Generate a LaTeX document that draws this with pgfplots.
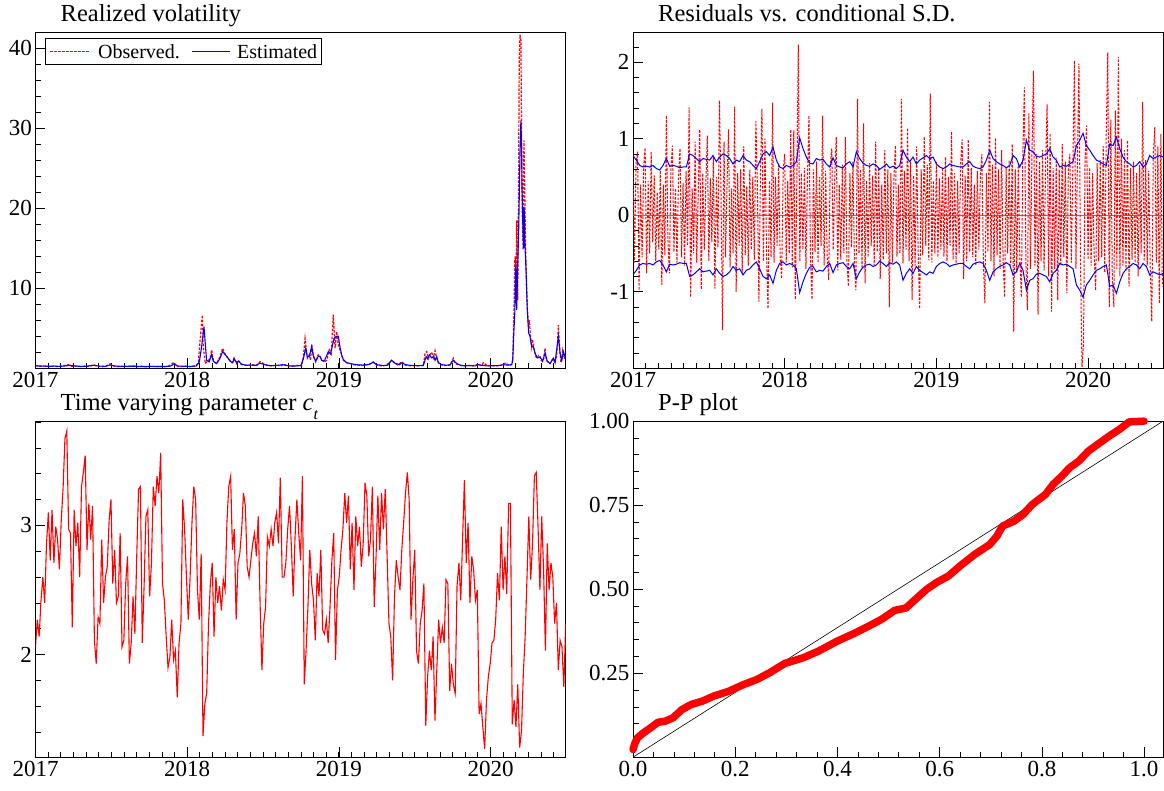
\documentclass[border=0pt]{standalone}
\usepackage{fontspec}
\setmainfont{Liberation Serif}
\usepackage{pgfplots}
\usepackage{pgfplotstable}
\pgfplotsset{compat=1.18}

% realized volatility, observed
\pgfplotstableread{
x y
2017.00 0.35
2017.03 0.25
2017.06 0.30
2017.09 0.22
2017.12 0.28
2017.15 0.20
2017.18 0.32
2017.216 0.45
2017.24 0.25
2017.27 0.30
2017.30 0.20
2017.33 0.28
2017.36 0.22
2017.381 0.45
2017.41 0.25
2017.44 0.20
2017.47 0.30
2017.491 0.55
2017.52 0.25
2017.55 0.20
2017.58 0.28
2017.61 0.22
2017.64 0.30
2017.67 0.20
2017.70 0.25
2017.73 0.18
2017.76 0.26
2017.79 0.20
2017.82 0.25
2017.85 0.18
2017.88 0.30
2017.913 0.75
2017.93 0.25
2017.96 0.20
2017.99 0.28
2018.02 0.20
2018.05 0.30
2018.073 0.6
2018.089 4.4
2018.100 6.67
2018.106 2.7
2018.119 0.6
2018.135 0.9
2018.150 1.2
2018.161 2.3
2018.175 0.8
2018.194 0.6
2018.215 1.4
2018.234 2.5
2018.247 1.9
2018.260 1.46
2018.282 1.0
2018.295 0.7
2018.309 1.3
2018.326 0.6
2018.337 1.0
2018.355 0.5
2018.370 0.4
2018.40 0.35
2018.43 0.45
2018.46 0.35
2018.480 0.83
2018.502 0.6
2018.53 0.35
2018.56 0.30
2018.59 0.40
2018.62 0.30
2018.634 0.55
2018.66 0.30
2018.69 0.25
2018.72 0.35
2018.755 0.30
2018.766 1.5
2018.777 3.75
2018.792 1.25
2018.805 1.7
2018.813 1.0
2018.821 3.0
2018.832 1.6
2018.847 0.8
2018.864 1.7
2018.875 1.5
2018.887 1.0
2018.904 0.8
2018.920 1.0
2018.937 2.3
2018.950 1.8
2018.963 6.7
2018.975 2.5
2018.985 4.6
2018.996 3.0
2019.007 2.3
2019.018 1.7
2019.029 1.0
2019.051 0.7
2019.073 0.6
2019.095 0.45
2019.117 0.4
2019.15 0.35
2019.18 0.40
2019.205 0.55
2019.227 0.8
2019.249 0.4
2019.28 0.30
2019.31 0.35
2019.348 1.0
2019.370 0.6
2019.39 0.40
2019.414 0.83
2019.436 0.4
2019.47 0.30
2019.50 0.35
2019.53 0.30
2019.557 0.40
2019.568 1.9
2019.579 2.1
2019.590 1.2
2019.603 1.8
2019.612 2.0
2019.623 1.3
2019.634 2.2
2019.645 1.2
2019.656 0.7
2019.678 0.4
2019.70 0.35
2019.733 0.4
2019.754 1.25
2019.766 0.6
2019.777 0.5
2019.80 0.35
2019.82 0.3
2019.85 0.35
2019.88 0.3
2019.919 0.5
2019.94 0.3
2019.952 0.7
2019.98 0.3
2020.01 0.35
2020.04 0.30
2020.084 0.45
2020.10 0.7
2020.12 0.30
2020.139 0.5
2020.146 1.0
2020.154 6.9
2020.160 13.5
2020.163 14
2020.167 9
2020.172 18.5
2020.176 12
2020.179 8.5
2020.182 16
2020.185 25
2020.189 38.5
2020.194 41.7
2020.200 41
2020.204 30
2020.207 23
2020.210 18
2020.214 14.8
2020.217 22
2020.220 28.5
2020.224 24
2020.227 20.2
2020.230 16
2020.233 13.5
2020.238 10
2020.242 7.7
2020.246 6.5
2020.251 5.2
2020.256 6.0
2020.260 4.8
2020.266 3.5
2020.271 2.7
2020.276 3.6
2020.282 3.1
2020.287 2.2
2020.293 1.9
2020.300 1.4
2020.308 1.25
2020.316 1.6
2020.326 1.46
2020.334 1.0
2020.343 0.83
2020.350 1.2
2020.359 2.5
2020.366 1.2
2020.374 0.83
2020.383 0.7
2020.392 0.6
2020.403 1.0
2020.414 1.25
2020.420 0.8
2020.425 0.7
2020.435 1.5
2020.441 3.0
2020.447 5.4
2020.452 3.5
2020.458 1.9
2020.463 0.8
2020.469 1.0
2020.474 2.1
2020.480 1.3
2020.486 1.25
2020.494 1.6
}\tabRVobs

% realized volatility, estimated
\pgfplotstableread{
x y
2017.00 0.30
2017.04 0.28
2017.08 0.25
2017.12 0.27
2017.16 0.24
2017.20 0.30
2017.22 0.38
2017.26 0.28
2017.30 0.24
2017.34 0.26
2017.38 0.38
2017.42 0.28
2017.46 0.24
2017.49 0.42
2017.53 0.27
2017.57 0.24
2017.61 0.25
2017.65 0.26
2017.69 0.23
2017.73 0.22
2017.77 0.24
2017.81 0.22
2017.85 0.23
2017.89 0.27
2017.913 0.55
2017.94 0.28
2017.98 0.25
2018.02 0.24
2018.06 0.28
2018.08 0.8
2018.095 2.7
2018.111 5.2
2018.119 3.1
2018.128 1.0
2018.145 0.8
2018.161 1.7
2018.172 0.9
2018.194 0.6
2018.215 1.2
2018.234 2.1
2018.250 1.7
2018.265 1.4
2018.282 0.9
2018.300 0.7
2018.309 1.2
2018.326 0.7
2018.337 0.9
2018.36 0.5
2018.39 0.38
2018.42 0.40
2018.45 0.35
2018.48 0.65
2018.51 0.45
2018.55 0.32
2018.59 0.35
2018.63 0.45
2018.67 0.30
2018.71 0.28
2018.75 0.35
2018.766 1.2
2018.781 2.5
2018.792 1.4
2018.805 1.5
2018.821 2.7
2018.832 1.5
2018.847 0.9
2018.864 1.5
2018.875 1.5
2018.887 1.0
2018.904 0.9
2018.931 2.1
2018.945 1.8
2018.968 3.75
2018.985 4.0
2018.996 4.0
2019.007 2.7
2019.018 1.7
2019.029 1.1
2019.051 0.7
2019.073 0.6
2019.10 0.5
2019.13 0.42
2019.16 0.40
2019.20 0.50
2019.227 0.75
2019.25 0.45
2019.29 0.35
2019.32 0.38
2019.348 1.0
2019.370 0.65
2019.40 0.45
2019.414 0.7
2019.44 0.45
2019.48 0.35
2019.52 0.32
2019.557 0.35
2019.575 1.46
2019.585 1.2
2019.596 1.67
2019.612 1.3
2019.625 1.5
2019.634 1.0
2019.645 1.46
2019.656 0.7
2019.678 0.45
2019.71 0.38
2019.733 0.45
2019.754 1.0
2019.777 0.6
2019.80 0.40
2019.83 0.30
2019.86 0.35
2019.90 0.30
2019.919 0.45
2019.95 0.35
2019.98 0.30
2020.02 0.32
2020.06 0.35
2020.084 0.45
2020.11 0.4
2020.139 0.45
2020.146 1.0
2020.154 4.8
2020.160 7
2020.163 10.2
2020.167 12.7
2020.172 7.3
2020.179 13.1
2020.185 16.9
2020.194 26.9
2020.200 31.0
2020.205 27
2020.207 22.7
2020.214 16.9
2020.218 15
2020.220 20.2
2020.224 19
2020.227 15.2
2020.233 12.7
2020.242 7.3
2020.251 4.4
2020.260 4.0
2020.271 2.7
2020.282 2.7
2020.293 1.9
2020.308 1.3
2020.326 1.4
2020.343 0.9
2020.359 1.9
2020.374 0.9
2020.392 0.6
2020.414 1.25
2020.425 0.7
2020.447 4.0
2020.458 1.9
2020.469 1.0
2020.480 2.1
2020.494 1.25
}\tabRVest

% residuals, 100 obs per year from 2017
\pgfplotstableread{
r
0.55
-0.62
0.70
0.83
-0.98
0.40
-0.55
0.62
0.88
-0.76
0.45
-0.50
0.83
-0.35
0.52
-0.60
0.30
-0.45
0.58
-0.91
0.40
-0.52
1.30
-0.30
-0.76
0.62
0.91
-0.48
0.35
-0.62
0.50
0.87
-0.55
0.42
-0.66
0.58
-0.40
1.41
-1.07
0.35
-0.50
0.96
-0.62
0.30
1.12
-0.97
0.55
-0.45
0.40
1.04
-0.60
0.48
-0.35
0.78
-0.96
0.50
-0.42
1.50
0.30
-1.50
0.96
-0.55
0.42
1.12
-0.68
0.35
-0.50
1.42
-1.00
0.55
-0.40
0.60
-0.76
0.90
-0.52
0.38
-0.66
0.60
-0.45
0.50
-0.58
1.23
0.40
-1.13
0.52
1.39
-0.60
1.00
-0.48
-1.22
0.45
-0.55
1.47
-0.62
0.50
-0.40
0.68
-0.52
-0.83
0.58
0.80
-0.62
0.45
-0.50
1.12
-0.68
1.11
-1.10
0.40
2.23
-0.60
0.55
-0.45
0.62
-0.70
0.48
1.30
-0.55
-1.10
0.60
-0.48
0.70
-0.62
0.50
-0.40
1.30
-0.66
0.58
-0.52
-0.85
0.62
0.87
-0.45
0.50
1.02
-0.72
0.40
-0.58
0.66
-0.50
1.02
-0.60
-0.93
0.55
-0.42
0.70
-0.65
-0.98
1.52
-0.50
0.60
-0.70
1.20
-0.89
0.45
-0.55
0.68
-0.40
0.52
-0.66
0.96
-0.48
0.62
-0.83
0.40
-0.58
0.85
-0.50
0.60
-1.20
0.55
-0.62
0.48
0.91
-0.54
0.40
-0.50
1.52
-0.63
0.58
-0.45
1.14
-0.60
0.70
-1.11
0.52
-0.66
0.90
-0.48
-1.22
0.60
-0.52
1.03
-0.40
0.66
-0.59
1.59
-0.62
0.45
-0.50
0.70
-0.55
0.48
-0.45
0.62
-0.54
0.76
-0.60
0.50
-0.40
1.09
-0.58
0.55
-0.63
0.45
-0.50
0.68
0.99
-0.83
0.52
-0.60
0.99
-0.48
0.62
-0.55
0.40
-0.66
0.58
-0.45
0.50
0.80
-0.62
-1.15
0.55
-0.48
1.48
-0.60
0.66
-0.80
1.01
-0.52
0.60
-0.70
0.85
-0.58
-1.07
0.62
-0.50
0.72
-0.66
0.93
-1.52
0.60
-0.75
0.68
-0.55
-1.07
0.80
1.67
-0.62
-1.24
1.33
-0.70
0.75
1.89
-0.66
0.80
-1.30
0.70
-0.60
0.85
-0.72
0.66
1.45
-0.80
1.07
-1.26
0.62
-0.70
0.75
-1.11
0.60
-0.66
0.93
-0.55
0.70
-1.02
0.58
0.80
-0.62
0.66
2.02
-0.70
0.75
1.98
-0.60
-1.98
-1.67
0.70
1.17
-0.58
0.62
-0.66
0.55
-0.50
-0.98
0.68
-0.60
0.72
-0.55
0.90
-0.75
1.10
2.13
-1.20
1.25
-0.85
-1.20
1.37
-0.70
2.07
-0.80
1.00
-0.66
0.85
-0.72
0.98
-0.93
0.62
-0.58
0.70
-0.62
0.55
-0.80
0.66
-0.50
1.48
-0.60
0.72
-0.66
0.58
-0.70
-1.39
0.80
1.15
-0.62
0.90
-1.15
1.06
-0.93
}\tabRes

% conditional s.d., 45.5 obs per year from 2017
\pgfplotstableread{
sd
0.78
0.72
0.65
0.63
0.64
0.63
0.65
0.61
0.59
0.65
0.74
0.64
0.65
0.64
0.62
0.63
0.63
0.80
0.78
0.74
0.70
0.74
0.73
0.72
0.78
0.70
0.76
0.80
0.78
0.74
0.67
0.72
0.70
0.78
0.72
0.70
0.65
0.61
0.70
0.80
0.83
0.78
0.89
0.72
0.63
0.61
0.65
0.63
0.65
0.70
1.01
0.87
0.76
0.68
0.67
0.74
0.72
0.73
0.67
0.63
0.75
0.65
0.63
0.62
0.67
0.70
0.63
0.83
0.74
0.68
0.65
0.64
0.67
0.65
0.60
0.63
0.67
0.62
0.64
0.61
0.65
0.85
0.76
0.70
0.76
0.67
0.72
0.75
0.78
0.74
0.76
0.67
0.63
0.61
0.63
0.67
0.65
0.64
0.63
0.63
0.67
0.70
0.64
0.62
0.61
0.63
0.72
0.85
0.74
0.70
0.67
0.65
0.62
0.65
0.78
0.74
0.63
0.72
0.98
0.85
0.83
0.77
0.76
0.78
0.80
0.87
0.76
0.72
0.63
0.65
0.64
0.67
0.70
0.91
0.98
1.07
0.91
0.85
0.78
0.72
0.70
0.67
0.65
0.93
0.91
1.02
0.87
0.76
0.70
0.67
0.63
0.65
0.70
0.63
0.67
0.78
0.74
0.76
0.78
0.76
}\tabSD

% time varying parameter c_t, 82.4 obs per year from 2017
\pgfplotstableread{
c
2.06
2.27
2.14
2.42
2.60
2.40
2.86
3.10
2.73
3.12
2.71
2.99
2.89
2.66
3.04
3.29
3.67
3.73
2.97
2.94
2.21
3.12
2.84
3.02
2.60
3.30
3.41
3.54
2.81
3.17
2.89
3.15
2.11
1.93
2.29
2.24
2.89
2.40
2.60
2.68
3.04
3.20
2.55
2.81
2.40
2.45
2.94
2.06
2.11
2.55
2.76
1.93
2.09
2.45
2.16
2.76
3.28
3.30
2.09
2.53
3.07
3.12
2.45
2.71
3.30
3.15
3.38
3.25
3.56
2.55
2.42
2.14
1.90
1.98
2.27
1.96
2.03
1.67
2.09
2.24
3.20
2.97
2.60
2.27
2.60
3.02
3.30
3.20
2.50
2.27
2.78
1.37
1.62
1.70
2.24
2.55
2.71
2.14
2.60
2.40
2.53
2.34
2.58
2.50
3.02
3.30
3.38
2.81
2.97
2.27
2.71
2.78
2.97
3.25
3.15
2.68
2.60
2.73
2.86
2.94
2.76
3.07
2.40
1.88
2.24
2.37
2.91
2.84
2.97
2.84
3.02
3.10
2.86
3.37
2.60
2.60
2.71
2.97
3.15
2.84
2.45
2.91
3.20
2.94
2.73
3.38
1.77
2.03
2.37
2.81
2.55
2.42
2.11
2.63
2.45
2.81
2.19
2.16
2.27
2.09
2.37
2.73
2.94
1.96
2.50
2.60
2.81
2.97
3.25
3.02
3.23
2.66
3.02
2.50
3.07
2.84
2.99
2.68
2.86
3.33
3.23
2.76
2.89
3.30
2.37
2.76
3.23
2.81
3.25
2.97
3.28
2.76
2.24
2.14
1.80
2.45
2.73
2.60
2.50
2.81
3.02
3.25
3.41
3.20
2.27
2.58
2.81
2.03
1.93
2.24
2.34
2.55
1.45
1.83
2.03
1.88
2.14
1.49
1.88
2.27
2.09
2.21
2.09
2.58
2.55
1.72
1.93
1.77
1.70
2.53
2.71
2.42
2.89
3.35
2.71
3.02
2.40
2.76
2.66
2.42
2.50
1.54
1.62
1.44
1.27
1.65
1.83
1.93
2.09
2.11
2.27
2.63
2.42
2.99
2.50
2.76
2.47
3.17
3.17
1.46
1.65
1.44
1.77
1.28
1.41
1.85
2.14
2.60
3.07
2.58
2.86
3.38
3.41
2.99
2.50
3.07
2.66
2.03
2.86
2.50
2.71
2.60
2.24
2.40
1.88
2.11
2.06
1.75
2.24
}\tabC

% P-P plot
\pgfplotstableread{
x y
0.000 0.023
0.004 0.043
0.009 0.058
0.020 0.072
0.034 0.087
0.049 0.104
0.063 0.107
0.078 0.117
0.096 0.142
0.114 0.157
0.136 0.167
0.158 0.182
0.187 0.196
0.216 0.216
0.242 0.231
0.267 0.251
0.297 0.279
0.333 0.296
0.362 0.315
0.399 0.345
0.435 0.370
0.461 0.390
0.486 0.410
0.512 0.437
0.534 0.444
0.552 0.469
0.574 0.499
0.595 0.521
0.617 0.539
0.639 0.568
0.668 0.603
0.698 0.633
0.712 0.658
0.723 0.688
0.745 0.702
0.763 0.722
0.781 0.752
0.807 0.782
0.822 0.812
0.840 0.838
0.854 0.861
0.872 0.881
0.891 0.911
0.909 0.931
0.931 0.955
0.953 0.977
0.971 0.998
1.000 1.000
}\tabPP

\pgfplotsset{
  panel/.style={
    scale only axis, width=530pt, height=336pt, anchor=south west,
    tick pos=left, tick align=inside,
    major tick length=10pt, minor tick length=5.5pt,
    tick style={black, line width=0.6pt},
    axis line style={line width=0.8pt, black},
    ticklabel style={font=\fontsize{23}{23}\selectfont},
    title style={at={(0,1)}, anchor=base west, xshift=25pt, yshift=5pt,
      inner sep=0pt, font=\fontsize{24.5}{25}\selectfont},
  },
  timeax/.style={
    xmin=2017, xmax=2020.494,
    xtick={2017,2018,2019,2020}, xticklabels={2017,2018,2019,2020},
    minor xtick={2017,2017.083333,...,2020.49},
  },
}

\begin{document}
\begin{tikzpicture}
\path[use as bounding box] (0,0) rectangle (1164pt,790pt);

% top left
\begin{axis}[panel, timeax, at={(35.5pt,421.7pt)}, name=rv,
  title={Realized volatility},
  ymin=0, ymax=42,
  ytick={10,20,30,40}, yticklabels={10,20,30,40},
  minor ytick={0,2,...,42},
]
\addplot[red, line width=1.2pt, dash pattern=on 2.5pt off 1.5pt] table[x=x, y=y] {\tabRVobs};
\addplot[blue, line width=1.1pt] table[x=x, y=y] {\tabRVest};
\end{axis}
% legend box of the first panel
\draw[black, line width=0.8pt, fill=white]
  ([shift={(10pt,-6pt)}]rv.north west) rectangle ([shift={(286pt,-32pt)}]rv.north west);
\draw[red, line width=1.2pt, dash pattern=on 2.5pt off 1.5pt]
  ([shift={(14.5pt,-19pt)}]rv.north west) -- ++(40pt,0pt);
\node[anchor=west, inner sep=0pt, font=\fontsize{20}{20}\selectfont]
  at ([shift={(62.5pt,-19pt)}]rv.north west) {Observed.};
\draw[blue, line width=1.1pt]
  ([shift={(156.5pt,-19pt)}]rv.north west) -- ++(38pt,0pt);
\node[anchor=west, inner sep=0pt, font=\fontsize{20}{20}\selectfont]
  at ([shift={(201.5pt,-19pt)}]rv.north west) {Estimated};

% top right
\begin{axis}[panel, timeax, at={(633pt,421.7pt)},
  title={Residuals vs. conditional S.D.},
  ymin=-2.0, ymax=2.39,
  ytick={-1,0,1,2}, yticklabels={-1,0,1,2},
  minor ytick={-2,-1.8,...,2.4},
]
\addplot[gray, line width=0.6pt, forget plot] coordinates {(2017,0) (2020.494,0)};
\addplot[red, line width=1pt, dash pattern=on 2.5pt off 1.5pt]
  table[x expr=2017+\coordindex/100, y=r] {\tabRes};
\addplot[blue, line width=1pt] table[x expr=2017+\coordindex/45.5, y=sd] {\tabSD};
\addplot[blue, line width=1pt, y filter/.expression={-y}]
  table[x expr=2017+\coordindex/45.5, y=sd] {\tabSD};
\end{axis}

% bottom left
\begin{axis}[panel, timeax, at={(35.5pt,32.8pt)},
  title={Time varying parameter \textit{c}\raisebox{-9pt}{\fontsize{16}{16}\selectfont\textit{t}}},
  ymin=1.206, ymax=3.806,
  ytick={2,3}, yticklabels={2,3},
  minor ytick={1.2,1.4,...,3.8},
]
\addplot[red, line width=1.1pt] table[x expr=2017+\coordindex/82.4, y=c] {\tabC};
\end{axis}

% bottom right
\begin{axis}[panel, at={(633pt,32.8pt)},
  title={P-P plot},
  xmin=0, xmax=1.037, ymin=0, ymax=1,
  xtick={0,0.2,0.4,0.6,0.8,1}, xticklabels={0.0,0.2,0.4,0.6,0.8,1.0},
  ytick={0.25,0.5,0.75,1}, yticklabels={0.25,0.50,0.75,1.00},
  minor xtick={0,0.04,...,1.04}, minor ytick={0,0.05,...,1},
  clip=false,
]
\addplot[black, line width=0.6pt] coordinates {(0,0) (1.037,1)};
\addplot[red, line width=7.5pt, line cap=round, line join=round] table[x=x, y=y] {\tabPP};
\end{axis}
\end{tikzpicture}
\end{document}
